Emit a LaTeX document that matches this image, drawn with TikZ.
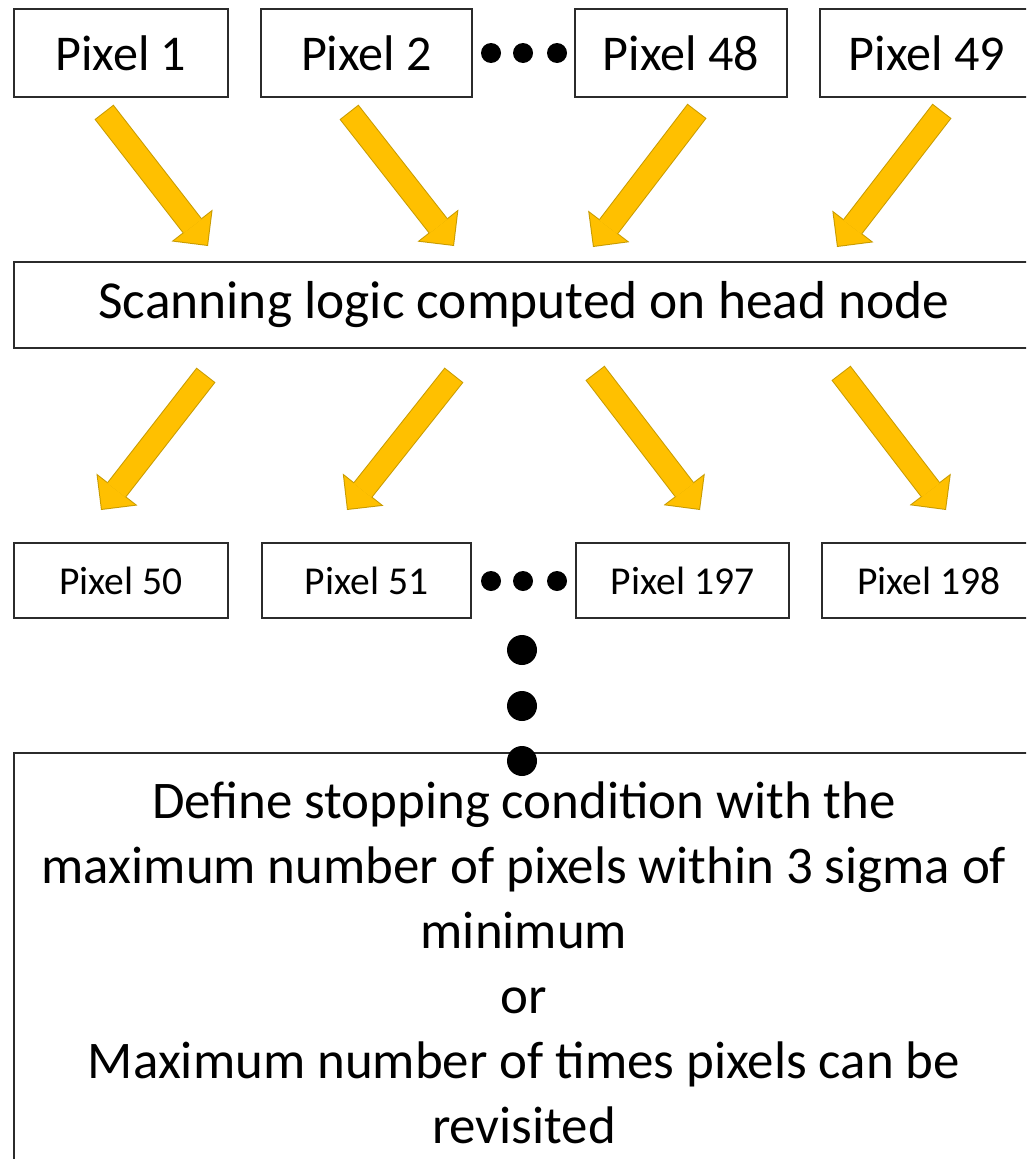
\documentclass[tikz,border=0pt]{standalone}
\usepackage{fontspec}
\setmainfont{Carlito}
\usetikzlibrary{arrows.meta}
\usetikzlibrary{calc}

\definecolor{arrowgold}{HTML}{FFC000}
\definecolor{arrowrim}{HTML}{C89B00}
\definecolor{boxline}{HTML}{2B2B2B}

\tikzset{
    pixbox/.style={draw=boxline, line width=0.4mm, inner sep=0pt, minimum height=17.6mm, font=\fontsize{28.5}{34}\selectfont},
    lowbox/.style={pixbox, minimum height=15mm, font=\fontsize{22.5}{27}\selectfont},
    widebox/.style={pixbox, minimum width=204mm, align=center, font=\fontsize{30.1}{37}\selectfont},
    arrowrimline/.style={arrowrim, line width=4.8mm, -{Triangle[width=10.4mm,length=5.2mm,line width=0pt]}},
    arrowbody/.style={arrowgold, line width=4.4mm, shorten <=0.2mm, shorten >=0.28mm, -{Triangle[width=9.43mm,length=4.72mm,line width=0pt]}}
}

\begin{document}
\begin{tikzpicture}[x=0.2mm, y=-0.2mm]
            \useasboundingbox (0,0) rectangle (1026,1159);
            \clip (0,0) rectangle (1026,1159);

            % first batch of pixels
            \node[pixbox, minimum width=42.8mm] (p1) at (121,53) {Pixel 1};
            \node[pixbox, minimum width=42.2mm] (p2) at (366.5,53) {Pixel 2};
            \node[pixbox, minimum width=42.4mm] (p48) at (681,53) {Pixel 48};
            \node[pixbox, minimum width=42.8mm] (p49) at (927,53) {Pixel 49};
            \fill (491,53) circle (2mm);
            \fill (523,53) circle (2mm);
            \fill (557,53) circle (2mm);

            \node[widebox, minimum height=17.2mm, font=\fontsize{30.4}{37}\selectfont] (head) at (524,305) {Scanning logic computed on head node};

            % second batch
            \node[lowbox, minimum width=42.8mm] (p50) at (121,580.5) {Pixel 50};
            \node[lowbox, minimum width=41.8mm] (p51) at (366.5,580.5) {Pixel 51};
            \node[lowbox, minimum width=42.6mm] (p197) at (682.5,580.5) {Pixel 197};
            \node[lowbox, minimum width=42.8mm] (p198) at (929,580.5) {Pixel 198};
            \fill (491,581) circle (2mm);
            \fill (523,581) circle (2mm);
            \fill (557,581) circle (2mm);

            \fill (522,650) circle (3mm);
            \fill (522,706) circle (3mm);

            \node[widebox, minimum height=83.8mm] (stop) at (524,962.5) {Define stopping condition with the\\
                maximum number of pixels within 3 sigma of\\ minimum\\ or\\
                Maximum number of times pixels can be\\ revisited};
            \fill (522,761) circle (3mm);

            % block arrows in and out of the head node
            \coordinate (a1s) at (104,112);  \coordinate (a1e) at (208,246);
            \coordinate (a2s) at (349,112);  \coordinate (a2e) at (454,246);
            \coordinate (a3s) at (697,111);  \coordinate (a3e) at (593,247);
            \coordinate (a4s) at (942,111);  \coordinate (a4e) at (837,247);
            \coordinate (a5s) at (206,375);  \coordinate (a5e) at (101,510);
            \coordinate (a6s) at (454,375);  \coordinate (a6e) at (347,510);
            \coordinate (a7s) at (595,373);  \coordinate (a7e) at (700,510);
            \coordinate (a8s) at (841,373);  \coordinate (a8e) at (946,510);
            \foreach \i in {1,...,8} {
                \draw[arrowrimline] (a\i s) -- (a\i e);
                \draw[arrowbody] (a\i s) -- (a\i e);
            }
        \end{tikzpicture}
\end{document}
